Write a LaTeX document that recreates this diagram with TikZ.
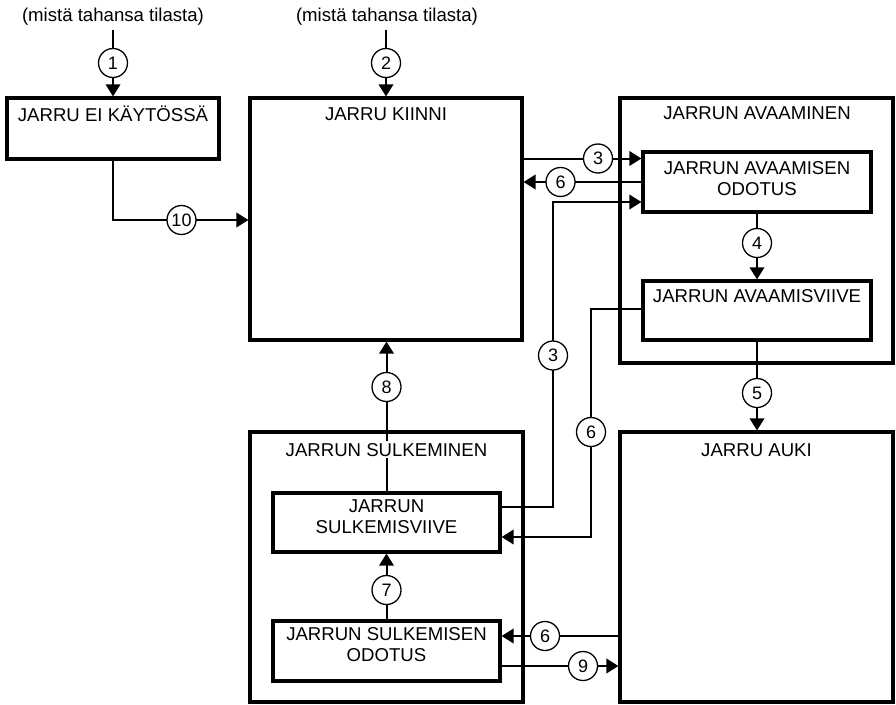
\documentclass[tikz,border=0pt]{standalone}
\usepackage{fontspec}
\setmainfont{Liberation Sans}
\usetikzlibrary{arrows.meta}
\begin{document}
\begin{tikzpicture}[x=1pt,y=-1pt,
  box/.style={draw,line width=3.2pt,inner sep=0pt},
  conn/.style={line width=2pt},
  arr/.style={conn,-{Triangle[length=12pt,width=14.5pt]}},
  circ/.style={circle,draw,fill=white,line width=1.3pt,minimum size=29pt,inner sep=0pt,font=\fontsize{18}{20}\selectfont},
  ttl/.style={anchor=base,inner sep=2pt,font=\fontsize{18.6}{21}\selectfont},
  ttl2/.style={anchor=north,inner sep=0pt,align=center,font=\fontsize{18.6}{21}\selectfont}]
\useasboundingbox (0,0) rectangle (896,704);
% boxes
\node[box,minimum width=212pt,minimum height=61pt] (eik) at (113,128.5) {};
\node[box,minimum width=272pt,minimum height=242pt] (kiinni) at (386,219) {};
\node[box,minimum width=273pt,minimum height=265pt] (avaam) at (756.5,230.5) {};
\node[box,minimum width=228pt,minimum height=60pt] (avod) at (757,182) {};
\node[box,minimum width=228pt,minimum height=59pt] (avviive) at (757,310.5) {};
\node[box,minimum width=273pt,minimum height=270pt] (sulk) at (386.5,567) {};
\node[box,minimum width=227pt,minimum height=59pt] (sulviive) at (386.5,522.5) {};
\node[box,minimum width=227pt,minimum height=60pt] (sulod) at (386.5,651) {};
\node[box,minimum width=273pt,minimum height=270pt] (auki) at (756.5,567) {};
% free ends and bend points
\coordinate (t1) at (113,30);
\coordinate (t2) at (386,30);
\coordinate (c10) at (113,220);
\coordinate (c3a) at (553,507);
\coordinate (c3b) at (553,202);
\coordinate (c6a) at (591,309);
\coordinate (c6b) at (591,537);
\coordinate (y3) at (0,158.5);
\coordinate (y6) at (0,182);
\coordinate (y6c) at (0,636);
\coordinate (y9) at (0,666);
% connectors
\draw[arr] (t1) -- (eik.north);
\draw[arr] (t2) -- (kiinni.north);
\draw[arr] (eik.south) -- (c10) -- (kiinni.west |- c10);
\draw[arr] (kiinni.east |- y3) -- (avod.west |- y3);
\draw[arr] (avod.west |- y6) -- (kiinni.east |- y6);
\draw[arr] (sulviive.east |- c3a) -- (c3a) -- (c3b) -- (avod.west |- c3b);
\draw[arr] (avviive.west |- c6a) -- (c6a) -- (c6b) -- (sulviive.east |- c6b);
\draw[arr] (avod.south) -- (avviive.north);
\draw[arr] (avviive.south) -- (avviive.south |- auki.north);
\draw[arr] (sulviive.north) -- (sulviive.north |- kiinni.south);
\draw[arr] (sulod.north) -- (sulviive.south);
\draw[arr] (auki.west |- y6c) -- (sulod.east |- y6c);
\draw[arr] (sulod.east |- y9) -- (auki.west |- y9);
% circles
\node[circ] (n1) at (113,63) {1};
\node[circ] (n2) at (386,63) {2};
\node[circ] (n10) at (181.5,220) {10};
\node[circ] (n3a) at (598,158.5) {3};
\node[circ] (n6a) at (560.5,182) {6};
\node[circ] (n3b) at (553,355.5) {3};
\node[circ] (n6b) at (591,432) {6};
\node[circ] (n4) at (757,243) {4};
\node[circ] (n5) at (757,393) {5};
\node[circ] (n8) at (386.5,387) {8};
\node[circ] (n7) at (386.5,590) {7};
\node[circ] (n6c) at (545,636) {6};
\node[circ] (n9) at (583,666) {9};
% texts
\node[ttl] (src1) at (113,21) {(mistä tahansa tilasta)};
\node[ttl] (src2) at (387,21) {(mistä tahansa tilasta)};
\node[ttl] (eikT) at (113,121) {JARRU EI KÄYTÖSSÄ};
\node[ttl] (kiinniT) at (386,120) {JARRU KIINNI};
\node[ttl] (avaamT) at (757,119) {JARRUN AVAAMINEN};
\node[ttl] (avviiveT) at (757,302) {JARRUN AVAAMISVIIVE};
\node[ttl] (aukiT) at (756.5,456) {JARRU AUKI};
\node[ttl,fill=white] (sulkT) at (386.5,456) {JARRUN SULKEMINEN};
\node[ttl2] (avodT) at (757,161) {JARRUN AVAAMISEN\\ODOTUS};
\node[ttl2] (sulviiveT) at (386.5,499) {JARRUN\\SULKEMISVIIVE};
\node[ttl2] (sulodT) at (386.5,627) {JARRUN SULKEMISEN\\ODOTUS};
\end{tikzpicture}
\end{document}
